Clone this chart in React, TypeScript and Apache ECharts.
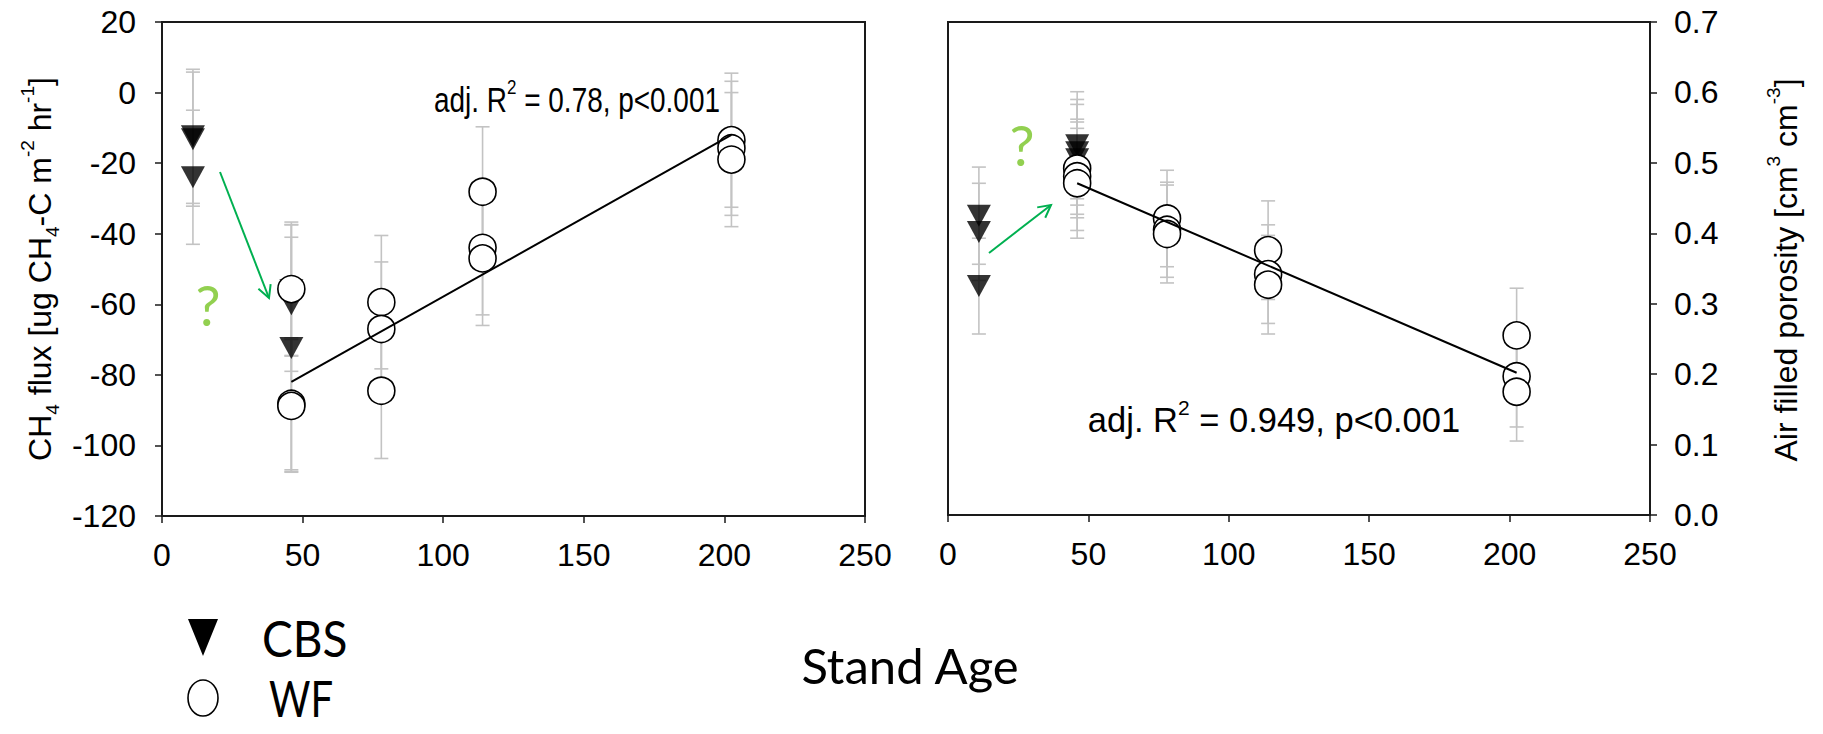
import React, { useEffect, useRef } from "react";
import * as echarts from "echarts";

// ---- data ----
const xTicks = [0, 50, 100, 150, 200, 250];

const cbsAgeL = [11, 11, 11, 46, 46, 46];
const cbsFlux = [-12.4, -13.2, -24, -56, -60, -72.4];
const cbsFluxSd = [19, 19, 19, 18.5, 19, 35];

const wfAgeL = [46, 46, 46, 78, 78, 78, 114, 114, 114, 202.5, 202.5, 202.5];
const wfFlux = [-55.7, -88.2, -88.8, -59.4, -67, -84.5, -28.1, -44, -47, -13.5, -15.8, -19];
const wfFluxSd = [19, 18.7, 18.8, 18.9, 19, 19.2, 18.4, 19, 19, 19, 19, 19];

const cbsAgeR = [11, 11, 11, 46, 46, 46];
const cbsAfp = [0.425, 0.402, 0.325, 0.525, 0.515, 0.505];
const cbsAfpSd = [0.069, 0.069, 0.068, 0.076, 0.075, 0.078];

const wfAgeR = [46, 46, 46, 78, 78, 78, 114, 114, 114, 202.5, 202.5, 202.5];
const wfAfp = [0.492, 0.481, 0.471, 0.421, 0.405, 0.399, 0.376, 0.342, 0.327, 0.255, 0.197, 0.175];
const wfAfpSd = [0.07, 0.077, 0.078, 0.0685, 0.0675, 0.0695, 0.07, 0.07, 0.07, 0.067, 0.072, 0.07];

const regAgeL = [46, 202.5];
const regFlux = [-82, -12];
const regAgeR = [46, 202.5];
const regAfp = [0.471, 0.202];

const statsLeft = "0.78";
const statsRight = "0.949";

// ---- helpers ----
const pts = (xs: number[], ys: number[]) => xs.map((x, i) => [x, ys[i]]);
const bars = (xs: number[], ys: number[], sd: number[]) =>
  xs.map((x, i) => [x, ys[i] - sd[i], ys[i] + sd[i]]);

const AX = "#1a1a1a";
const TICKFONT = "'Liberation Sans', Arial, Helvetica, sans-serif";
const CAL = "Lato, 'Open Sans', sans-serif";

function errorBarSeries(data: number[][], gi: number) {
  return {
    type: "custom",
    xAxisIndex: gi,
    yAxisIndex: gi,
    z: 1,
    silent: true,
    encode: { x: 0, y: [1, 2] },
    data,
    renderItem: (params: any, api: any) => {
      const x = api.value(0);
      const top = api.coord([x, api.value(2)]);
      const bot = api.coord([x, api.value(1)]);
      const w = 7;
      const st = { stroke: "#c3c3c3", lineWidth: 1.6 };
      return {
        type: "group",
        children: [
          { type: "line", shape: { x1: top[0], y1: top[1], x2: bot[0], y2: bot[1] }, style: st },
          { type: "line", shape: { x1: top[0] - w, y1: top[1], x2: top[0] + w, y2: top[1] }, style: st },
          { type: "line", shape: { x1: bot[0] - w, y1: bot[1], x2: bot[0] + w, y2: bot[1] }, style: st },
        ],
      };
    },
  };
}

function arrow(x1: number, y1: number, x2: number, y2: number, color: string) {
  const dx = x2 - x1, dy = y2 - y1;
  const len = Math.sqrt(dx * dx + dy * dy);
  const ux = dx / len, uy = dy / len;
  const h = 14, a = (28 * Math.PI) / 180;
  const c = Math.cos(a), s = Math.sin(a);
  const l1 = [x2 - h * (ux * c - uy * s), y2 - h * (uy * c + ux * s)];
  const l2 = [x2 - h * (ux * c + uy * s), y2 - h * (uy * c - ux * s)];
  return [
    { type: "line", shape: { x1, y1, x2, y2 }, style: { stroke: color, lineWidth: 2 } },
    { type: "polyline", shape: { points: [l1, [x2, y2], l2] }, style: { stroke: color, lineWidth: 2, fill: null } },
  ];
}

const richMain = (size: number) => ({
  n: { fontSize: size, fontFamily: TICKFONT, color: "#000", lineHeight: size + 12 },
  sup: { fontSize: Math.round(size * 0.6), fontFamily: TICKFONT, color: "#000", verticalAlign: "top" },
  sub: { fontSize: Math.round(size * 0.6), fontFamily: TICKFONT, color: "#000", verticalAlign: "bottom" },
});

export default function App() {
  const ref = useRef<HTMLDivElement>(null);
  useEffect(() => {
    if (!ref.current) return;
    const chart = echarts.init(ref.current, undefined, { renderer: "svg" });

    const gridL = { left: 162, top: 22, width: 703, height: 494 };
    const gridR = { left: 948, top: 22, width: 702, height: 493 };

    const xAxisBase = (gi: number) => ({
      type: "value",
      gridIndex: gi,
      min: xTicks[0],
      max: xTicks[xTicks.length - 1],
      interval: 50,
      axisLine: { show: true, onZero: false, lineStyle: { color: AX, width: 2 } },
      axisTick: { show: true, inside: false, length: 7, lineStyle: { color: AX, width: 1.5 } },
      axisLabel: { color: "#000", fontSize: 32, fontFamily: TICKFONT, margin: 23 },
      splitLine: { show: false },
    });

    const option: any = {
      animation: false,
      backgroundColor: "#fff",
      grid: [
        { ...gridL, show: true, borderColor: AX, borderWidth: 2, backgroundColor: "transparent", outerBoundsMode: "none" },
        { ...gridR, show: true, borderColor: AX, borderWidth: 2, backgroundColor: "transparent", outerBoundsMode: "none" },
      ],
      xAxis: [xAxisBase(0), xAxisBase(1)],
      yAxis: [
        {
          type: "value",
          gridIndex: 0,
          min: -120,
          max: 20,
          interval: 20,
          axisLine: { show: true, onZero: false, lineStyle: { color: AX, width: 2 } },
          axisTick: { show: true, length: 7, lineStyle: { color: AX, width: 1.5 } },
          axisLabel: { color: "#000", fontSize: 32, fontFamily: TICKFONT, margin: 26 },
          splitLine: { show: false },
        },
        {
          type: "value",
          gridIndex: 1,
          position: "right",
          min: 0,
          max: 0.7,
          interval: 0.1,
          axisLine: { show: true, onZero: false, lineStyle: { color: AX, width: 2 } },
          axisTick: { show: true, length: 7, lineStyle: { color: AX, width: 1.5 } },
          axisLabel: {
            color: "#000",
            fontSize: 32,
            fontFamily: TICKFONT,
            margin: 24,
            formatter: (v: number) => v.toFixed(1),
          },
          splitLine: { show: false },
        },
      ],
      series: [
        errorBarSeries(bars(cbsAgeL, cbsFlux, cbsFluxSd), 0),
        errorBarSeries(bars(wfAgeL, wfFlux, wfFluxSd), 0),
        errorBarSeries(bars(cbsAgeR, cbsAfp, cbsAfpSd), 1),
        errorBarSeries(bars(wfAgeR, wfAfp, wfAfpSd), 1),
        {
          name: "CBS",
          type: "scatter",
          xAxisIndex: 0,
          yAxisIndex: 0,
          z: 3,
          symbol: "triangle",
          symbolRotate: 180,
          symbolSize: [24, 22],
          itemStyle: { color: "#000" },
          data: pts(cbsAgeL, cbsFlux),
        },
        {
          name: "WF",
          type: "scatter",
          xAxisIndex: 0,
          yAxisIndex: 0,
          z: 4,
          symbol: "circle",
          symbolSize: 27,
          itemStyle: { color: "#fff", borderColor: "#000", borderWidth: 1.6, opacity: 1 },
          data: pts(wfAgeL, wfFlux),
        },
        {
          name: "CBS",
          type: "scatter",
          xAxisIndex: 1,
          yAxisIndex: 1,
          z: 3,
          symbol: "triangle",
          symbolRotate: 180,
          symbolSize: [24, 22],
          itemStyle: { color: "#000" },
          data: pts(cbsAgeR, cbsAfp),
        },
        {
          name: "WF",
          type: "scatter",
          xAxisIndex: 1,
          yAxisIndex: 1,
          z: 4,
          symbol: "circle",
          symbolSize: 27,
          itemStyle: { color: "#fff", borderColor: "#000", borderWidth: 1.6, opacity: 1 },
          data: pts(wfAgeR, wfAfp),
        },
        {
          type: "line",
          xAxisIndex: 0,
          yAxisIndex: 0,
          z: 5,
          symbol: "none",
          lineStyle: { color: "#000", width: 2 },
          data: pts(regAgeL, regFlux),
        },
        {
          type: "line",
          xAxisIndex: 1,
          yAxisIndex: 1,
          z: 5,
          symbol: "none",
          lineStyle: { color: "#000", width: 2 },
          data: pts(regAgeR, regAfp),
        },
      ],
      graphic: [
        // y-axis titles
        {
          type: "text",
          x: 40,
          y: 269,
          rotation: Math.PI / 2,
          style: {
            text: "{n|CH}{sub|4}{n| flux [ug CH}{sub|4}{n|-C m}{sup|-2}{n| hr}{sup|-1}{n|]}",
            rich: richMain(32),
            align: "center",
            verticalAlign: "middle",
          },
        },
        {
          type: "text",
          x: 1786,
          y: 270,
          rotation: Math.PI / 2,
          style: {
            text: "{n|Air filled porosity [cm}{sup|3}{n| cm}{sup|-3}{n|]}",
            rich: richMain(32),
            align: "center",
            verticalAlign: "middle",
          },
        },
        // statistics
        {
          type: "text",
          x: 577,
          y: 100,
          scaleX: 0.81,
          style: {
            text: `{n|adj. R}{sup|2}{n| = ${statsLeft}, p<0.001}`,
            rich: richMain(34.5),
            align: "center",
            verticalAlign: "middle",
          },
        },
        {
          type: "text",
          x: 1274,
          y: 420,
          style: {
            text: `{n|adj. R}{sup|2}{n| = ${statsRight}, p<0.001}`,
            rich: richMain(34.5),
            align: "center",
            verticalAlign: "middle",
          },
        },
        // green annotations
        ...arrow(220, 172, 269, 298, "#00b050"),
        ...arrow(989, 253, 1051, 205, "#00b050"),
        {
          type: "text",
          x: 208,
          y: 304,
          style: { text: "?", fontSize: 56, fontFamily: CAL, fill: "#92d050", align: "center", verticalAlign: "middle" },
        },
        {
          type: "text",
          x: 1022,
          y: 144,
          style: { text: "?", fontSize: 56, fontFamily: CAL, fill: "#92d050", align: "center", verticalAlign: "middle" },
        },
        // legend
        {
          type: "polygon",
          shape: { points: [[188, 619], [218, 619], [203, 656]] },
          style: { fill: "#000" },
        },
        {
          type: "ellipse",
          shape: { cx: 203, cy: 698, rx: 15, ry: 18 },
          style: { fill: "#fff", stroke: "#000", lineWidth: 1.6 },
        },
        {
          type: "text",
          x: 262,
          y: 638,
          scaleX: 0.92,
          style: { text: "CBS", fontSize: 50, fontFamily: CAL, fill: "#000", align: "left", verticalAlign: "middle" },
        },
        {
          type: "text",
          x: 269,
          y: 698,
          scaleX: 0.8,
          style: { text: "WF", fontSize: 50, fontFamily: CAL, fill: "#000", align: "left", verticalAlign: "middle" },
        },
        {
          type: "text",
          x: 910,
          y: 665,
          style: { text: "Stand Age", fontSize: 49, fontFamily: CAL, fill: "#000", align: "center", verticalAlign: "middle" },
        },
      ],
    };

    chart.setOption(option);
    return () => chart.dispose();
  }, []);

  return (
    <div
      ref={ref}
      style={{ position: "absolute", left: 0, top: 0, width: 1823, height: 734, background: "#fff" }}
    />
  );
}
